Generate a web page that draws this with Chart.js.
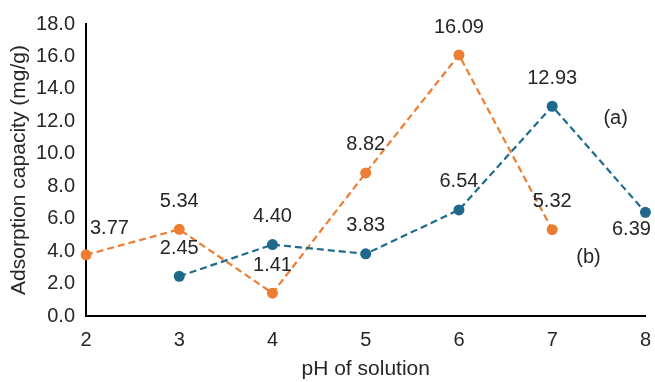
<!DOCTYPE html>
<html>
<head>
<meta charset="utf-8">
<script src="https://cdn.jsdelivr.net/npm/chart.js@4"></script>
<style>
  body { margin: 0; background: #fff; }
</style>
</head>
<body>
<canvas id="phChart" width="655" height="382"></canvas>
<script>
// pH values and adsorption capacity for the two samples
const phLabels = ['2', '3', '4', '5', '6', '7', '8'];
const seriesA = [null, 2.45, 4.40, 3.83, 6.54, 12.93, 6.39];
const seriesB = [3.77, 5.34, 1.41, 8.82, 16.09, 5.32, null];
const yTicks = [0, 2, 4, 6, 8, 10, 12, 14, 16, 18];

const blue = '#1d6a8d';
const orange = '#ed7d31';
const textColor = '#262626';
const font = 'Liberation Sans, Arial, sans-serif';

// value labels, drawn above each point unless a spot says otherwise
const labelPlugin = {
    id: 'valueLabels',
    afterDatasetsDraw(chart) {
        const ctx = chart.ctx;
        ctx.save();
        ctx.font = '20px ' + font;
        ctx.fillStyle = textColor;
        ctx.textBaseline = 'middle';
        chart.data.datasets.forEach((ds, i) => {
            const meta = chart.getDatasetMeta(i);
            meta.data.forEach((pt, j) => {
                const v = ds.data[j];
                if (v == null) return;
                const spot = (ds.labelSpots && ds.labelSpots[j]) || 'above';
                let x = pt.x, y = pt.y - 28;
                ctx.textAlign = 'center';
                if (spot === 'right') { x = pt.x + 4; y = pt.y - 26; ctx.textAlign = 'left'; }
                if (spot === 'below') { x = pt.x - 14; y = pt.y + 17; }
                ctx.fillText(v.toFixed(2), x, y);
            });
        });
        // series tags
        const xs = chart.scales.x, ys = chart.scales.y;
        const px = v => xs.getPixelForValue(0) + (v - 2) * (xs.getPixelForValue(1) - xs.getPixelForValue(0));
        ctx.textAlign = 'center';
        ctx.fillText('(a)', px(7.68), ys.getPixelForValue(12.2));
        ctx.fillText('(b)', px(7.39), ys.getPixelForValue(3.6));
        ctx.restore();
    }
};

new Chart(document.getElementById('phChart').getContext('2d'), {
    type: 'line',
    data: {
        labels: phLabels,
        datasets: [{
            label: '(a)',
            data: seriesA,
            borderColor: blue,
            backgroundColor: blue,
            borderWidth: 2.2,
            borderDash: [7, 4],
            pointRadius: 5.5,
            pointHoverRadius: 5.5,
            pointBorderWidth: 0,
            labelSpots: [null, null, null, null, null, null, 'below']
        }, {
            label: '(b)',
            data: seriesB,
            borderColor: orange,
            backgroundColor: orange,
            borderWidth: 2.2,
            borderDash: [7, 4],
            pointRadius: 5.5,
            pointHoverRadius: 5.5,
            pointBorderWidth: 0,
            labelSpots: ['right']
        }]
    },
    options: {
        responsive: false,
        animation: false,
        layout: { padding: { top: 24, right: 8, left: 0, bottom: 0 } },
        plugins: {
            legend: { display: false },
            tooltip: { enabled: false }
        },
        scales: {
            x: {
                grid: { display: false },
                border: { display: true, color: '#000', width: 2 },
                afterFit: s => { s.height = 66; },
                ticks: { color: textColor, font: { family: font, size: 20 }, padding: 4, maxRotation: 0 },
                title: { display: true, text: 'pH of solution', color: textColor, font: { family: font, size: 21 }, padding: { top: 0, bottom: 0 } }
            },
            y: {
                min: yTicks[0],
                max: yTicks[yTicks.length - 1],
                grid: { display: false },
                border: { display: true, color: '#000', width: 2 },
                afterFit: s => { s.width = 86; },
                afterBuildTicks: axis => { axis.ticks = yTicks.map(v => ({ value: v })); },
                ticks: { color: textColor, font: { family: font, size: 20 }, padding: 3, callback: v => v.toFixed(1) },
                title: { display: true, text: 'Adsorption capacity (mg/g)', color: textColor, font: { family: font, size: 21 }, padding: { top: 7, bottom: 0 } }
            }
        }
    },
    plugins: [labelPlugin]
});
</script>
</body>
</html>
